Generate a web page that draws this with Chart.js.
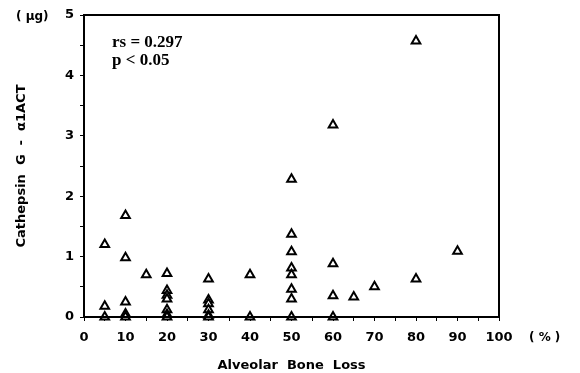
<!DOCTYPE html>
<html>
<head>
<meta charset="utf-8">
<script src="https://cdn.jsdelivr.net/npm/chart.js@4"></script>
<style>
  html, body { margin: 0; padding: 0; background: #fff; }
  #wrap { width: 580px; height: 373px; }
</style>
</head>
<body>
<div id="wrap"><canvas id="c" width="580" height="373"></canvas></div>
<script>
// Alveolar bone loss (%) for each sample
const boneLoss = [
  5, 5, 5,
  10, 10, 10, 10, 10,
  15,
  20, 20, 20, 20, 20, 20, 20,
  30, 30, 30, 30, 30, 30,
  40, 40,
  50, 50, 50, 50, 50, 50, 50, 50,
  60, 60, 60, 60,
  65,
  70,
  80, 80,
  90
];
// Cathepsin G - α1ACT complex (µg)
const cathepsinG = [
  1.2, 0.18, 0,
  1.68, 0.98, 0.25, 0.05, 0,
  0.7,
  0.72, 0.44, 0.36, 0.3, 0.12, 0.04, 0,
  0.63, 0.28, 0.22, 0.12, 0.03, 0,
  0.7, 0,
  2.28, 1.37, 1.08, 0.81, 0.7, 0.46, 0.3, 0,
  3.18, 0.88, 0.35, 0,
  0.33,
  0.5,
  4.57, 0.63,
  1.09
];
const xTicks = [0, 10, 20, 30, 40, 50, 60, 70, 80, 90, 100];
const yTicks = [0, 1, 2, 3, 4, 5];
const statLines = ['rs = 0.297', 'p < 0.05'];

const points = boneLoss.map((x, i) => ({ x: x, y: cathepsinG[i] }));
const labelFont = { family: '"DejaVu Sans", Arial, sans-serif', size: 13, weight: 'bold' };

// frame around the plot plus unit labels and the correlation note
const extras = {
  id: 'extras',
  afterDraw(chart) {
    const { ctx, chartArea: a } = chart;
    ctx.save();
    ctx.strokeStyle = '#000';
    ctx.lineWidth = 2;
    ctx.strokeRect(a.left, a.top, a.right - a.left, a.bottom - a.top);

    ctx.fillStyle = '#000';
    ctx.font = 'bold 12px "DejaVu Sans", Arial, sans-serif';
    ctx.textBaseline = 'middle';
    ctx.textAlign = 'left';
    ctx.fillText('( µg)', 16, a.top + 2);
    ctx.fillText('( % )', a.right + 30, a.bottom + 21);

    ctx.font = 'bold 17px "Liberation Serif", "Times New Roman", serif';
    ctx.fillText(statLines[0], a.left + 28, a.top + 28);
    ctx.fillText(statLines[1], a.left + 28, a.top + 46);
    ctx.restore();
  }
};

new Chart(document.getElementById('c'), {
  type: 'scatter',
  data: {
    datasets: [{
      data: points,
      pointStyle: 'triangle',
      pointRadius: 5,
      pointBorderWidth: 2,
      borderColor: '#000',
      backgroundColor: '#fff',
      clip: false
    }]
  },
  options: {
    responsive: false,
    animation: false,
    layout: { padding: { left: 0, right: 81, top: 15, bottom: 0 } },
    plugins: { legend: { display: false }, tooltip: { enabled: false } },
    scales: {
      x: {
        type: 'linear',
        min: 0, max: 100,
        afterFit(s) { s.height = 56; },
        border: { color: '#000', width: 2 },
        grid: { drawOnChartArea: false, tickLength: 4, color: '#000', tickWidth: 1 },
        ticks: {
          stepSize: 5,
          color: '#000',
          font: labelFont,
          padding: 9,
          maxRotation: 0,
          autoSkip: false,
          callback: (v) => xTicks.includes(v) ? String(v) : ''
        },
        title: {
          display: true,
          text: 'Alveolar  Bone  Loss',
          color: '#000',
          font: labelFont,
          padding: { top: 0, bottom: 0 }
        }
      },
      y: {
        type: 'linear',
        min: 0, max: 5,
        afterFit(s) { s.width = 84; },
        border: { color: '#000', width: 2 },
        grid: { drawOnChartArea: false, tickLength: 4, color: '#000', tickWidth: 1 },
        ticks: {
          stepSize: 0.5,
          color: '#000',
          font: labelFont,
          padding: 6,
          autoSkip: false,
          callback: (v) => yTicks.includes(v) ? String(v) : ''
        },
        title: {
          display: true,
          text: 'Cathepsin  G  -  α1ACT',
          color: '#000',
          font: labelFont,
          padding: { top: 14, bottom: 0 }
        }
      }
    }
  },
  plugins: [extras]
});
</script>
</body>
</html>
